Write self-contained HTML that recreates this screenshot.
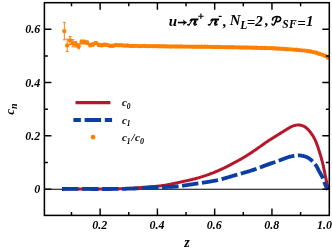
<!DOCTYPE html>
<html><head><meta charset="utf-8"><title>plot</title>
<style>
html,body{margin:0;padding:0;background:#fff;}
svg{display:block;will-change:transform;}
text{font-family:"Liberation Serif",serif;font-weight:bold;font-style:italic;fill:#000;}
</style></head><body>
<svg width="332" height="249" viewBox="0 0 332 249">
<rect width="332" height="249" fill="#fff"/>
<defs><clipPath id="cp"><rect x="44.4" y="2.7" width="284.90000000000003" height="212.70000000000002"/></clipPath></defs>
<path d="M44.4,189.2H329.3" stroke="#000" stroke-width="1.15" fill="none"/>
<g clip-path="url(#cp)">
<path d="M62.00,189.00 L62.82,188.99 L63.63,188.99 L64.45,188.98 L65.27,188.97 L66.09,188.97 L66.90,188.97 L67.72,188.96 L68.54,188.96 L69.35,188.96 L70.17,188.96 L70.99,188.95 L71.81,188.95 L72.62,188.95 L73.44,188.95 L74.26,188.95 L75.08,188.95 L75.89,188.96 L76.71,188.96 L77.53,188.96 L78.34,188.96 L79.16,188.96 L79.98,188.96 L80.80,188.97 L81.61,188.97 L82.43,188.97 L83.25,188.97 L84.07,188.98 L84.88,188.98 L85.70,188.98 L86.52,188.99 L87.34,188.99 L88.15,188.99 L88.97,188.99 L89.79,188.99 L90.61,189.00 L91.42,189.00 L92.24,189.00 L93.06,189.00 L93.88,189.00 L94.69,189.00 L95.51,189.00 L96.33,189.00 L97.14,189.00 L97.96,189.00 L98.78,189.00 L99.60,189.00 L100.41,189.00 L101.23,189.00 L102.05,188.99 L102.87,188.99 L103.68,188.99 L104.50,188.98 L105.32,188.97 L106.14,188.97 L106.95,188.96 L107.77,188.95 L108.59,188.94 L109.40,188.94 L110.22,188.93 L111.04,188.91 L111.86,188.90 L112.67,188.89 L113.49,188.88 L114.31,188.86 L115.12,188.85 L115.94,188.83 L116.76,188.81 L117.58,188.79 L118.39,188.77 L119.21,188.75 L120.03,188.73 L120.84,188.70 L121.66,188.68 L122.48,188.65 L123.30,188.62 L124.11,188.60 L124.93,188.57 L125.75,188.53 L126.56,188.50 L127.38,188.46 L128.20,188.43 L129.01,188.39 L129.83,188.35 L130.65,188.30 L131.46,188.26 L132.28,188.21 L133.09,188.16 L133.91,188.10 L134.72,188.05 L135.54,187.99 L136.35,187.92 L137.17,187.86 L137.98,187.79 L138.80,187.72 L139.61,187.64 L140.42,187.57 L141.24,187.50 L142.05,187.42 L142.87,187.35 L143.68,187.27 L144.49,187.20 L145.31,187.13 L146.12,187.05 L146.94,186.99 L147.75,186.92 L148.57,186.86 L149.38,186.80 L150.20,186.74 L151.01,186.68 L151.83,186.62 L152.65,186.57 L153.46,186.51 L154.28,186.45 L155.09,186.39 L155.91,186.32 L156.72,186.25 L157.53,186.18 L158.35,186.10 L159.16,186.02 L159.97,185.92 L160.78,185.83 L161.59,185.72 L162.40,185.61 L163.21,185.49 L164.02,185.37 L164.83,185.24 L165.63,185.11 L166.44,184.97 L167.24,184.82 L168.05,184.68 L168.85,184.53 L169.65,184.37 L170.46,184.21 L171.26,184.05 L172.06,183.89 L172.86,183.72 L173.66,183.55 L174.46,183.39 L175.26,183.21 L176.06,183.04 L176.86,182.87 L177.66,182.69 L178.46,182.52 L179.25,182.34 L180.05,182.17 L180.85,181.99 L181.65,181.82 L182.45,181.64 L183.24,181.47 L184.04,181.29 L184.84,181.12 L185.64,180.94 L186.44,180.77 L187.24,180.60 L188.04,180.42 L188.83,180.24 L189.63,180.07 L190.43,179.89 L191.23,179.70 L192.02,179.52 L192.82,179.33 L193.61,179.14 L194.40,178.94 L195.20,178.74 L195.99,178.53 L196.78,178.32 L197.56,178.10 L198.35,177.88 L199.14,177.65 L199.92,177.42 L200.70,177.18 L201.48,176.94 L202.26,176.69 L203.04,176.44 L203.82,176.18 L204.59,175.93 L205.37,175.66 L206.14,175.40 L206.91,175.12 L207.68,174.85 L208.45,174.57 L209.22,174.29 L209.99,174.01 L210.75,173.72 L211.52,173.43 L212.28,173.13 L213.04,172.84 L213.80,172.53 L214.56,172.23 L215.31,171.92 L216.07,171.61 L216.82,171.29 L217.57,170.97 L218.32,170.64 L219.07,170.31 L219.82,169.98 L220.56,169.64 L221.31,169.30 L222.05,168.96 L222.79,168.61 L223.52,168.26 L224.26,167.90 L224.99,167.54 L225.73,167.18 L226.46,166.81 L227.19,166.45 L227.92,166.08 L228.64,165.70 L229.37,165.33 L230.10,164.95 L230.82,164.57 L231.54,164.19 L232.27,163.81 L232.99,163.43 L233.71,163.04 L234.43,162.66 L235.15,162.27 L235.87,161.88 L236.59,161.49 L237.30,161.09 L238.02,160.70 L238.73,160.30 L239.45,159.90 L240.16,159.50 L240.87,159.09 L241.58,158.68 L242.28,158.27 L242.99,157.86 L243.69,157.44 L244.39,157.02 L245.09,156.60 L245.79,156.18 L246.49,155.75 L247.18,155.32 L247.87,154.89 L248.57,154.45 L249.25,154.01 L249.94,153.57 L250.63,153.12 L251.31,152.67 L251.99,152.22 L252.67,151.77 L253.35,151.31 L254.03,150.86 L254.71,150.39 L255.38,149.93 L256.05,149.46 L256.72,149.00 L257.39,148.53 L258.06,148.05 L258.72,147.58 L259.39,147.10 L260.05,146.63 L260.72,146.15 L261.38,145.68 L262.05,145.20 L262.71,144.73 L263.38,144.25 L264.05,143.78 L264.72,143.31 L265.39,142.85 L266.06,142.38 L266.73,141.92 L267.41,141.46 L268.09,141.01 L268.77,140.56 L269.45,140.11 L270.14,139.67 L270.83,139.23 L271.52,138.79 L272.21,138.36 L272.91,137.93 L273.60,137.50 L274.30,137.07 L275.00,136.64 L275.69,136.21 L276.39,135.79 L277.09,135.36 L277.78,134.93 L278.48,134.50 L279.18,134.07 L279.87,133.64 L280.56,133.21 L281.26,132.78 L281.95,132.34 L282.64,131.90 L283.33,131.47 L284.02,131.03 L284.71,130.59 L285.40,130.15 L286.09,129.71 L286.78,129.28 L287.48,128.85 L288.18,128.42 L288.88,128.01 L289.59,127.61 L290.32,127.22 L291.05,126.86 L291.79,126.52 L292.55,126.20 L293.32,125.91 L294.11,125.66 L294.90,125.44 L295.71,125.26 L296.52,125.13 L297.33,125.04 L298.16,125.00 L298.98,125.02 L299.80,125.09 L300.62,125.21 L301.43,125.39 L302.22,125.61 L303.00,125.89 L303.75,126.22 L304.47,126.60 L305.17,127.03 L305.83,127.50 L306.48,128.01 L307.09,128.55 L307.69,129.12 L308.26,129.72 L308.82,130.33 L309.35,130.97 L309.88,131.61 L310.39,132.27 L310.88,132.93 L311.37,133.60 L311.84,134.27 L312.29,134.95 L312.74,135.64 L313.17,136.33 L313.58,137.04 L313.98,137.74 L314.37,138.46 L314.74,139.18 L315.10,139.91 L315.44,140.65 L315.77,141.40 L316.09,142.15 L316.40,142.90 L316.70,143.66 L316.98,144.43 L317.26,145.20 L317.53,145.97 L317.80,146.75 L318.05,147.53 L318.31,148.31 L318.56,149.09 L318.81,149.87 L319.05,150.66 L319.30,151.44 L319.55,152.22 L319.79,153.00 L320.03,153.78 L320.27,154.57 L320.51,155.35 L320.74,156.13 L320.98,156.92 L321.21,157.70 L321.43,158.48 L321.65,159.27 L321.87,160.06 L322.08,160.85 L322.28,161.64 L322.48,162.43 L322.68,163.22 L322.86,164.01 L323.05,164.81 L323.22,165.61 L323.40,166.41 L323.57,167.21 L323.73,168.01 L323.90,168.81 L324.06,169.61 L324.22,170.41 L324.38,171.21 L324.54,172.01 L324.70,172.82 L324.86,173.62 L325.02,174.42 L325.19,175.22 L325.35,176.02 L325.52,176.82 L325.69,177.62 L325.86,178.42 L326.03,179.22 L326.20,180.02 L326.38,180.82 L326.55,181.62 L326.73,182.41 L326.90,183.21 L327.08,184.01 L327.25,184.81 L327.43,185.61 L327.60,186.41 L327.78,187.20 L327.95,188.00 L328.13,188.80 L328.30,189.60" stroke="#b5182b" stroke-width="3" fill="none" stroke-linejoin="round"/>
<path d="M62.00,189.00 L62.72,188.99 L63.45,188.99 L64.17,188.98 L64.89,188.97 L65.62,188.97 L66.34,188.96 L67.07,188.96 L67.79,188.95 L68.51,188.95 L69.24,188.95 L69.96,188.94 L70.69,188.94 L71.41,188.94 L72.13,188.94 L72.86,188.94 L73.58,188.94 L74.30,188.93 L75.03,188.93 L75.75,188.93 L76.48,188.93 L77.20,188.94 L77.92,188.94 L78.65,188.94 L79.37,188.94 L80.10,188.94 L80.82,188.94 L81.54,188.94 L82.27,188.95 L82.99,188.95 L83.72,188.95 L84.44,188.95 L85.16,188.95 L85.89,188.96 L86.61,188.96 L87.34,188.96 L88.06,188.97 L88.78,188.97 L89.51,188.97 L90.23,188.97 L90.96,188.98 L91.68,188.98 L92.40,188.98 L93.13,188.98 L93.85,188.99 L94.58,188.99 L95.30,188.99 L96.02,188.99 L96.75,188.99 L97.47,189.00 L98.20,189.00 L98.92,189.00 L99.64,189.00 L100.37,189.00 L101.09,189.00 L101.82,189.00 L102.54,189.00 L103.26,189.00 L103.99,189.00 L104.71,189.00 L105.44,189.00 L106.16,189.00 L106.88,188.99 L107.61,188.99 L108.33,188.99 L109.06,188.99 L109.78,188.98 L110.50,188.98 L111.23,188.97 L111.95,188.97 L112.68,188.96 L113.40,188.96 L114.12,188.95 L114.85,188.94 L115.57,188.94 L116.30,188.93 L117.02,188.92 L117.74,188.91 L118.47,188.90 L119.19,188.89 L119.91,188.88 L120.64,188.87 L121.36,188.85 L122.09,188.84 L122.81,188.82 L123.53,188.81 L124.26,188.79 L124.98,188.78 L125.70,188.76 L126.43,188.74 L127.15,188.72 L127.88,188.71 L128.60,188.69 L129.32,188.66 L130.05,188.64 L130.77,188.62 L131.49,188.60 L132.22,188.58 L132.94,188.55 L133.66,188.53 L134.39,188.51 L135.11,188.48 L135.84,188.46 L136.56,188.43 L137.28,188.40 L138.01,188.38 L138.73,188.35 L139.45,188.32 L140.18,188.29 L140.90,188.26 L141.62,188.23 L142.35,188.20 L143.07,188.17 L143.79,188.13 L144.52,188.10 L145.24,188.06 L145.96,188.02 L146.68,187.98 L147.41,187.94 L148.13,187.89 L148.85,187.85 L149.57,187.80 L150.30,187.75 L151.02,187.70 L151.74,187.65 L152.46,187.60 L153.19,187.55 L153.91,187.50 L154.63,187.45 L155.35,187.40 L156.07,187.36 L156.80,187.31 L157.52,187.27 L158.24,187.23 L158.97,187.20 L159.69,187.16 L160.41,187.13 L161.14,187.11 L161.86,187.08 L162.58,187.06 L163.31,187.05 L164.03,187.03 L164.76,187.01 L165.48,187.00 L166.21,186.98 L166.93,186.96 L167.65,186.95 L168.38,186.93 L169.10,186.91 L169.82,186.89 L170.55,186.86 L171.27,186.83 L171.99,186.80 L172.72,186.76 L173.44,186.72 L174.16,186.67 L174.88,186.61 L175.60,186.55 L176.32,186.49 L177.04,186.42 L177.76,186.34 L178.48,186.26 L179.20,186.18 L179.92,186.09 L180.63,185.99 L181.35,185.90 L182.07,185.80 L182.79,185.70 L183.50,185.59 L184.22,185.49 L184.94,185.38 L185.65,185.27 L186.37,185.16 L187.09,185.05 L187.80,184.94 L188.52,184.83 L189.24,184.72 L189.95,184.61 L190.67,184.50 L191.38,184.39 L192.10,184.28 L192.82,184.17 L193.53,184.07 L194.25,183.96 L194.96,183.85 L195.68,183.75 L196.40,183.64 L197.11,183.54 L197.83,183.43 L198.54,183.33 L199.26,183.22 L199.98,183.12 L200.69,183.01 L201.41,182.90 L202.12,182.80 L202.84,182.69 L203.56,182.58 L204.27,182.48 L204.99,182.37 L205.70,182.26 L206.42,182.15 L207.13,182.04 L207.85,181.92 L208.57,181.81 L209.28,181.70 L210.00,181.58 L210.71,181.46 L211.43,181.34 L212.14,181.22 L212.85,181.09 L213.57,180.96 L214.28,180.83 L214.99,180.69 L215.70,180.55 L216.41,180.41 L217.12,180.26 L217.82,180.11 L218.53,179.95 L219.24,179.78 L219.94,179.62 L220.64,179.44 L221.34,179.26 L222.04,179.07 L222.74,178.88 L223.44,178.69 L224.13,178.49 L224.83,178.29 L225.52,178.08 L226.22,177.88 L226.91,177.67 L227.60,177.46 L228.30,177.25 L228.99,177.04 L229.68,176.83 L230.37,176.62 L231.07,176.41 L231.76,176.20 L232.46,175.99 L233.15,175.79 L233.85,175.59 L234.54,175.39 L235.24,175.19 L235.93,174.99 L236.63,174.80 L237.33,174.60 L238.03,174.40 L238.72,174.21 L239.42,174.02 L240.12,173.82 L240.81,173.63 L241.51,173.43 L242.21,173.24 L242.91,173.04 L243.60,172.84 L244.30,172.64 L244.99,172.44 L245.69,172.24 L246.38,172.04 L247.08,171.83 L247.77,171.63 L248.47,171.42 L249.16,171.21 L249.85,170.99 L250.54,170.78 L251.23,170.56 L251.92,170.34 L252.61,170.11 L253.30,169.88 L253.98,169.65 L254.67,169.42 L255.35,169.18 L256.03,168.94 L256.71,168.69 L257.39,168.44 L258.07,168.19 L258.75,167.94 L259.43,167.68 L260.11,167.42 L260.78,167.17 L261.46,166.91 L262.13,166.65 L262.81,166.39 L263.48,166.13 L264.16,165.87 L264.84,165.61 L265.51,165.35 L266.19,165.10 L266.87,164.85 L267.55,164.60 L268.23,164.35 L268.91,164.11 L269.60,163.87 L270.28,163.64 L270.97,163.40 L271.65,163.17 L272.34,162.94 L273.02,162.71 L273.71,162.47 L274.39,162.24 L275.08,162.01 L275.76,161.77 L276.45,161.54 L277.13,161.30 L277.81,161.05 L278.49,160.80 L279.17,160.55 L279.85,160.30 L280.53,160.03 L281.20,159.77 L281.87,159.50 L282.55,159.23 L283.22,158.96 L283.89,158.69 L284.57,158.43 L285.24,158.17 L285.92,157.93 L286.61,157.69 L287.29,157.46 L287.98,157.25 L288.68,157.04 L289.37,156.85 L290.07,156.67 L290.78,156.50 L291.49,156.35 L292.20,156.19 L292.91,156.05 L293.62,155.92 L294.34,155.79 L295.06,155.68 L295.78,155.58 L296.50,155.50 L297.22,155.44 L297.95,155.40 L298.67,155.39 L299.39,155.40 L300.11,155.45 L300.83,155.53 L301.55,155.63 L302.26,155.76 L302.97,155.91 L303.68,156.09 L304.38,156.28 L305.08,156.50 L305.77,156.74 L306.45,157.00 L307.12,157.29 L307.77,157.60 L308.40,157.95 L309.02,158.33 L309.61,158.74 L310.18,159.17 L310.74,159.64 L311.28,160.12 L311.81,160.62 L312.33,161.13 L312.85,161.65 L313.35,162.18 L313.84,162.71 L314.32,163.26 L314.79,163.81 L315.24,164.38 L315.67,164.96 L316.07,165.56 L316.46,166.17 L316.82,166.79 L317.17,167.42 L317.50,168.06 L317.83,168.71 L318.16,169.36 L318.49,170.01 L318.82,170.65 L319.16,171.30 L319.51,171.93 L319.87,172.56 L320.23,173.19 L320.59,173.82 L320.95,174.45 L321.31,175.08 L321.66,175.71 L322.00,176.35 L322.32,177.00 L322.62,177.65 L322.91,178.31 L323.18,178.98 L323.44,179.66 L323.68,180.34 L323.92,181.03 L324.16,181.71 L324.40,182.40 L324.64,183.08 L324.89,183.76 L325.15,184.44 L325.42,185.11 L325.71,185.77 L326.02,186.43 L326.36,187.07 L326.72,187.70 L327.11,188.32 L327.54,188.92 L328.00,189.50" stroke="#0a3ea5" stroke-width="3.8" fill="none" stroke-dasharray="16.45 3.58" stroke-linejoin="round"/>
<path d="M64.33,22.35V39.85M62.93,22.35h2.8M62.93,39.85h2.8" stroke="#ff7f00" stroke-width="1" fill="none"/><path d="M67.19,39.20V51.60M65.79,39.20h2.8M65.79,51.60h2.8" stroke="#ff7f00" stroke-width="1" fill="none"/><path d="M70.06,36.50V44.50M68.66,36.50h2.8M68.66,44.50h2.8" stroke="#ff7f00" stroke-width="1" fill="none"/><path d="M72.92,39.65V46.85M71.52,39.65h2.8M71.52,46.85h2.8" stroke="#ff7f00" stroke-width="1" fill="none"/><path d="M75.78,41.40V47.00M74.38,41.40h2.8M74.38,47.00h2.8" stroke="#ff7f00" stroke-width="1" fill="none"/><path d="M78.65,43.80V48.80M77.25,43.80h2.8M77.25,48.80h2.8" stroke="#ff7f00" stroke-width="1" fill="none"/><path d="M81.51,40.00V44.00M80.11,40.00h2.8M80.11,44.00h2.8" stroke="#ff7f00" stroke-width="1" fill="none"/><path d="M84.37,40.10V43.90M82.97,40.10h2.8M82.97,43.90h2.8" stroke="#ff7f00" stroke-width="1" fill="none"/><path d="M87.24,40.85V44.45M85.84,40.85h2.8M85.84,44.45h2.8" stroke="#ff7f00" stroke-width="1" fill="none"/><path d="M90.10,43.40V46.80M88.70,43.40h2.8M88.70,46.80h2.8" stroke="#ff7f00" stroke-width="1" fill="none"/><path d="M92.96,42.90V46.10M91.56,42.90h2.8M91.56,46.10h2.8" stroke="#ff7f00" stroke-width="1" fill="none"/><path d="M95.83,41.50V44.50M94.43,41.50h2.8M94.43,44.50h2.8" stroke="#ff7f00" stroke-width="1" fill="none"/><path d="M98.69,43.32V46.30M97.29,43.32h2.8M97.29,46.30h2.8" stroke="#ff7f00" stroke-width="1" fill="none"/><path d="M101.56,43.79V46.56M100.16,43.79h2.8M100.16,46.56h2.8" stroke="#ff7f00" stroke-width="1" fill="none"/><path d="M104.42,43.36V45.94M103.02,43.36h2.8M103.02,45.94h2.8" stroke="#ff7f00" stroke-width="1" fill="none"/><path d="M107.28,43.90V46.30M105.88,43.90h2.8M105.88,46.30h2.8" stroke="#ff7f00" stroke-width="1" fill="none"/><path d="M110.15,44.56V46.80M108.75,44.56h2.8M108.75,46.80h2.8" stroke="#ff7f00" stroke-width="1" fill="none"/><path d="M113.01,44.70V46.78M111.61,44.70h2.8M111.61,46.78h2.8" stroke="#ff7f00" stroke-width="1" fill="none"/><circle cx="64.33" cy="31.10" r="2.2" fill="#ff7f00"/><circle cx="67.19" cy="45.40" r="2.2" fill="#ff7f00"/><circle cx="70.06" cy="40.50" r="2.2" fill="#ff7f00"/><circle cx="72.92" cy="43.25" r="2.2" fill="#ff7f00"/><circle cx="75.78" cy="44.20" r="2.2" fill="#ff7f00"/><circle cx="78.65" cy="46.30" r="2.2" fill="#ff7f00"/><circle cx="81.51" cy="42.00" r="2.2" fill="#ff7f00"/><circle cx="84.37" cy="42.00" r="2.2" fill="#ff7f00"/><circle cx="87.24" cy="42.65" r="2.2" fill="#ff7f00"/><circle cx="90.10" cy="45.10" r="2.2" fill="#ff7f00"/><circle cx="92.96" cy="44.50" r="2.2" fill="#ff7f00"/><circle cx="95.83" cy="43.00" r="2.2" fill="#ff7f00"/><circle cx="98.69" cy="44.81" r="2.2" fill="#ff7f00"/><circle cx="101.56" cy="45.18" r="2.2" fill="#ff7f00"/><circle cx="104.42" cy="44.65" r="2.2" fill="#ff7f00"/><circle cx="107.28" cy="45.10" r="2.2" fill="#ff7f00"/><circle cx="110.15" cy="45.68" r="2.2" fill="#ff7f00"/><circle cx="113.01" cy="45.74" r="2.2" fill="#ff7f00"/><circle cx="115.87" cy="45.04" r="2.2" fill="#ff7f00"/><circle cx="118.74" cy="45.24" r="2.2" fill="#ff7f00"/><circle cx="121.60" cy="45.24" r="2.2" fill="#ff7f00"/><circle cx="124.47" cy="45.66" r="2.2" fill="#ff7f00"/><circle cx="127.33" cy="45.50" r="2.2" fill="#ff7f00"/><circle cx="130.19" cy="45.88" r="2.2" fill="#ff7f00"/><circle cx="133.06" cy="46.02" r="2.2" fill="#ff7f00"/><circle cx="135.92" cy="45.87" r="2.2" fill="#ff7f00"/><circle cx="138.78" cy="46.09" r="2.2" fill="#ff7f00"/><circle cx="141.65" cy="46.08" r="2.2" fill="#ff7f00"/><circle cx="144.51" cy="45.91" r="2.2" fill="#ff7f00"/><circle cx="147.38" cy="46.14" r="2.2" fill="#ff7f00"/><circle cx="150.24" cy="46.08" r="2.2" fill="#ff7f00"/><circle cx="153.10" cy="46.17" r="2.2" fill="#ff7f00"/><circle cx="155.97" cy="46.17" r="2.2" fill="#ff7f00"/><circle cx="158.83" cy="46.30" r="2.2" fill="#ff7f00"/><circle cx="161.69" cy="46.28" r="2.2" fill="#ff7f00"/><circle cx="164.56" cy="46.27" r="2.2" fill="#ff7f00"/><circle cx="167.42" cy="46.38" r="2.2" fill="#ff7f00"/><circle cx="170.28" cy="46.44" r="2.2" fill="#ff7f00"/><circle cx="173.15" cy="46.41" r="2.2" fill="#ff7f00"/><circle cx="176.01" cy="46.43" r="2.2" fill="#ff7f00"/><circle cx="178.88" cy="46.49" r="2.2" fill="#ff7f00"/><circle cx="181.74" cy="46.57" r="2.2" fill="#ff7f00"/><circle cx="184.60" cy="46.60" r="2.2" fill="#ff7f00"/><circle cx="187.47" cy="46.61" r="2.2" fill="#ff7f00"/><circle cx="190.33" cy="46.66" r="2.2" fill="#ff7f00"/><circle cx="193.19" cy="46.68" r="2.2" fill="#ff7f00"/><circle cx="196.06" cy="46.68" r="2.2" fill="#ff7f00"/><circle cx="198.92" cy="46.70" r="2.2" fill="#ff7f00"/><circle cx="201.79" cy="46.76" r="2.2" fill="#ff7f00"/><circle cx="204.65" cy="46.79" r="2.2" fill="#ff7f00"/><circle cx="207.51" cy="46.82" r="2.2" fill="#ff7f00"/><circle cx="210.38" cy="46.87" r="2.2" fill="#ff7f00"/><circle cx="213.24" cy="46.93" r="2.2" fill="#ff7f00"/><circle cx="216.10" cy="46.98" r="2.2" fill="#ff7f00"/><circle cx="218.97" cy="47.03" r="2.2" fill="#ff7f00"/><circle cx="221.83" cy="47.08" r="2.2" fill="#ff7f00"/><circle cx="224.69" cy="47.14" r="2.2" fill="#ff7f00"/><circle cx="227.56" cy="47.20" r="2.2" fill="#ff7f00"/><circle cx="230.42" cy="47.25" r="2.2" fill="#ff7f00"/><circle cx="233.29" cy="47.29" r="2.2" fill="#ff7f00"/><circle cx="236.15" cy="47.34" r="2.2" fill="#ff7f00"/><circle cx="239.01" cy="47.40" r="2.2" fill="#ff7f00"/><circle cx="241.88" cy="47.45" r="2.2" fill="#ff7f00"/><circle cx="244.74" cy="47.50" r="2.2" fill="#ff7f00"/><circle cx="247.60" cy="47.56" r="2.2" fill="#ff7f00"/><circle cx="250.47" cy="47.61" r="2.2" fill="#ff7f00"/><circle cx="253.33" cy="47.69" r="2.2" fill="#ff7f00"/><circle cx="256.20" cy="47.77" r="2.2" fill="#ff7f00"/><circle cx="259.06" cy="47.85" r="2.2" fill="#ff7f00"/><circle cx="261.92" cy="47.93" r="2.2" fill="#ff7f00"/><circle cx="264.79" cy="48.00" r="2.2" fill="#ff7f00"/><circle cx="267.65" cy="48.08" r="2.2" fill="#ff7f00"/><circle cx="270.51" cy="48.16" r="2.2" fill="#ff7f00"/><circle cx="273.38" cy="48.29" r="2.2" fill="#ff7f00"/><circle cx="276.24" cy="48.46" r="2.2" fill="#ff7f00"/><circle cx="279.11" cy="48.64" r="2.2" fill="#ff7f00"/><circle cx="281.97" cy="48.82" r="2.2" fill="#ff7f00"/><circle cx="284.83" cy="49.00" r="2.2" fill="#ff7f00"/><circle cx="287.70" cy="49.18" r="2.2" fill="#ff7f00"/><circle cx="290.56" cy="49.36" r="2.2" fill="#ff7f00"/><circle cx="293.42" cy="49.58" r="2.2" fill="#ff7f00"/><circle cx="296.29" cy="49.82" r="2.2" fill="#ff7f00"/><circle cx="299.15" cy="50.08" r="2.2" fill="#ff7f00"/><circle cx="302.01" cy="50.33" r="2.2" fill="#ff7f00"/><circle cx="304.88" cy="50.62" r="2.2" fill="#ff7f00"/><circle cx="307.74" cy="51.00" r="2.2" fill="#ff7f00"/><circle cx="310.61" cy="51.44" r="2.2" fill="#ff7f00"/><circle cx="313.47" cy="52.11" r="2.2" fill="#ff7f00"/><circle cx="316.33" cy="52.81" r="2.2" fill="#ff7f00"/><circle cx="319.20" cy="53.71" r="2.2" fill="#ff7f00"/><circle cx="322.06" cy="54.62" r="2.2" fill="#ff7f00"/><circle cx="324.92" cy="55.77" r="2.2" fill="#ff7f00"/><circle cx="327.79" cy="57.49" r="2.2" fill="#ff7f00"/>
</g>
<!-- legend -->
<path d="M75.5,102.65H110.4" stroke="#b5182b" stroke-width="3.3"/>
<path d="M73.4,119.9H112.1" stroke="#0a3ea5" stroke-width="4" stroke-dasharray="16.5 3.7" stroke-dashoffset="9"/>
<circle cx="93.05" cy="137.15" r="2.3" fill="#ff7f00"/>
<g font-size="11">
<text x="121.9" y="106.45">c<tspan font-size="7.5" dy="2.2">0</tspan></text>
<text x="121.9" y="123.5">c<tspan font-size="7.5" dy="2.6">1</tspan></text>
<text x="121.9" y="141.2">c<tspan font-size="7.5" dy="2.6">1</tspan><tspan dy="-2.6" dx="0.9">/</tspan><tspan dx="0.4">c</tspan><tspan font-size="8" dy="2.6" dx="0.3">0</tspan></text>
</g>
<!-- frame + ticks -->
<rect x="44.4" y="2.7" width="284.90000000000003" height="212.70000000000002" fill="none" stroke="#000" stroke-width="1.55"/>
<path d="M71.49,215.4v-3.5M71.49,2.7v3.5M100.12,215.4v-7.0M100.12,2.7v7.0M128.76,215.4v-3.5M128.76,2.7v3.5M157.40,215.4v-7.0M157.40,2.7v7.0M186.03,215.4v-3.5M186.03,2.7v3.5M214.67,215.4v-7.0M214.67,2.7v7.0M243.31,215.4v-3.5M243.31,2.7v3.5M271.95,215.4v-7.0M271.95,2.7v7.0M300.58,215.4v-3.5M300.58,2.7v3.5M44.4,189.10h7.0M329.3,189.10h-7.0M44.4,162.47h3.5M329.3,162.47h-3.5M44.4,135.84h7.0M329.3,135.84h-7.0M44.4,109.21h3.5M329.3,109.21h-3.5M44.4,82.58h7.0M329.3,82.58h-7.0M44.4,55.95h3.5M329.3,55.95h-3.5M44.4,29.32h7.0M329.3,29.32h-7.0" stroke="#000" stroke-width="1.45" fill="none"/>
<g font-size="12"><text x="99.82" y="229.2" text-anchor="middle">0.2</text><text x="157.10" y="229.2" text-anchor="middle">0.4</text><text x="214.37" y="229.2" text-anchor="middle">0.6</text><text x="271.65" y="229.2" text-anchor="middle">0.8</text><text x="324.4" y="229.2" text-anchor="middle">1.0</text><text x="40.2" y="193.20" text-anchor="end">0</text><text x="40.2" y="139.94" text-anchor="end">0.2</text><text x="40.2" y="86.68" text-anchor="end">0.4</text><text x="40.2" y="33.42" text-anchor="end">0.6</text></g>
<text x="186.9" y="247.4" font-size="14" text-anchor="middle">z</text>
<text transform="translate(14.2,109.2) rotate(-90)" font-size="13" text-anchor="middle">c<tspan font-size="10" dy="2.7">n</tspan></text>
<!-- title -->
<defs>
<g id="pi">
<path d="M2.5,-4.4C2.9,-5.9 3.7,-6.9 4.9,-6.9L11.7,-6.9L11.1,-5.1L4.9,-5.1C4.1,-5.1 3.5,-4.8 3.0,-4.1Z" fill="#000"/>
<path d="M4.9,-5.2C4.1,-3.4 3.1,-1.6 2.0,-0.7" stroke="#000" stroke-width="1.05" fill="none" stroke-linecap="round"/>
<path d="M2.3,-1.0C1.7,-0.3 0.9,-0.3 0.7,-0.9" stroke="#000" stroke-width="1.4" fill="none" stroke-linecap="round"/>
<path d="M8.7,-5.2L7.2,-1.5" stroke="#000" stroke-width="2.4" fill="none"/>
<path d="M7.3,-2.1C6.6,-0.1 8.1,0.1 9.4,-1.2" stroke="#000" stroke-width="1.4" fill="none" stroke-linecap="round"/>
</g>
</defs>
<g font-size="15">
<text x="168.8" y="25.5">u</text>
<path d="M177.9,22.55H185.3" stroke="#000" stroke-width="1.6" fill="none"/>
<path d="M183.4,20.0Q184.9,21.9 186.9,22.55Q184.9,23.2 183.4,25.1Q184.6,22.55 183.4,20.0Z" fill="#000" stroke="#000" stroke-width="0.5" stroke-linejoin="round"/>
<use href="#pi" x="187" y="25.5"/>
<path d="M198.2,16.3H203.6M200.9,13.6V19.0" stroke="#000" stroke-width="1.1" fill="none"/>
<use href="#pi" x="207.7" y="25.5"/>
<path d="M218.7,16.4H221.7" stroke="#000" stroke-width="1.2" fill="none"/>
<text x="223.0" y="25.6">,</text>
<text x="229.8" y="25.4">N</text>
<text x="240.3" y="28.5" font-size="11.5">L</text>
<text x="246.7" y="27.4">=</text><text x="255.2" y="25.6">2</text>
<text x="264.9" y="25.4">,</text>
<text x="282.3" y="28.4" font-size="11.5" letter-spacing="0.4">SF</text>
<text x="297.2" y="27.9">=</text><text x="305.9" y="25.8">1</text>
<path d="M277.0,17.2C276.2,20 275.2,23 274.1,24.5C273.4,25.4 272.3,25.0 272.0,24.0" stroke="#000" stroke-width="1.5" fill="none" stroke-linecap="round"/>
<path d="M272.5,19.9C272.6,15.6 281.0,15.4 280.7,18.9C280.5,21.3 278.4,22.0 276.6,21.5" stroke="#000" stroke-width="1.6" fill="none" stroke-linecap="round"/>
</g>
</svg>
</body></html>
